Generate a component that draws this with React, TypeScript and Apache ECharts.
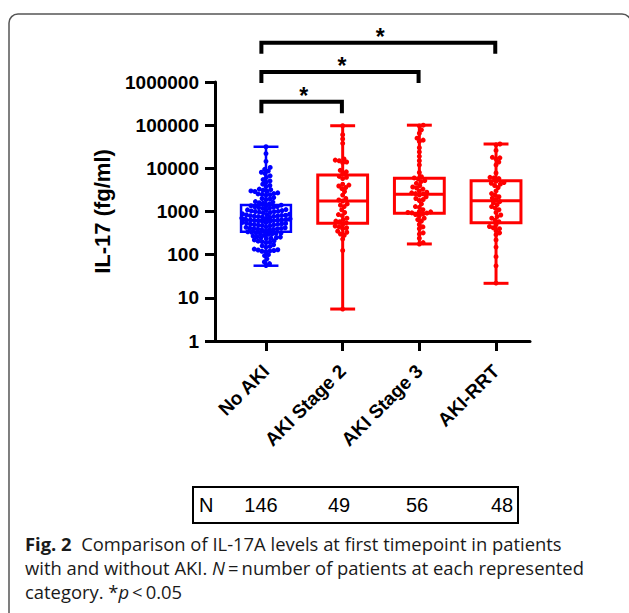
import React, { useEffect, useRef } from 'react';
import * as echarts from 'echarts';

const CATEGORIES = ['No AKI', 'AKI Stage 2', 'AKI Stage 3', 'AKI-RRT'];
const COLORS = ['#0000ff', '#ff0000', '#ff0000', '#ff0000'];
const BOX_LINE = [2.5, 3, 3, 3];

const BOX_MIN = [55.5, 5.5, 177, 21.7];
const BOX_Q1 = [340, 532, 910, 550];
const BOX_MED = [630, 1750, 2500, 1780];
const BOX_Q3 = [1410, 7000, 5880, 5160];
const BOX_MAX = [31600, 97000, 100000, 36600];

const NO_AKI = [
  31600, 22000, 14500, 10500, 9500, 8700, 8100, 7600, 6700, 6200, 5500, 5100, 4800, 4300, 4000, 3800,
  3300, 3200, 3100, 3000, 2950, 2900,
  2700, 2600, 2550, 2500, 2450, 2400,
  2100, 2000, 1950, 1900,
  1700, 1650, 1600, 1550, 1500,
  1400, 1360, 1330, 1300, 1280, 1250, 1230, 1200, 1180,
  1110, 1090, 1070, 1050, 1030, 1010, 1000, 990, 970, 950, 930,
  880, 865, 850, 835, 820, 810, 800, 790, 780, 770, 760, 745, 730,
  705, 690, 675, 665, 655, 645, 635, 630, 625, 615, 605, 595, 585,
  560, 550, 540, 530, 520, 510, 505, 500, 490, 485, 475, 465,
  440, 430, 420, 410, 405, 400, 395, 390, 385, 380, 375,
  350, 340, 330, 320, 315, 310, 305, 300, 295,
  280, 270, 260, 255, 250, 245, 240, 235,
  220, 210, 205, 200, 195, 190,
  170, 160, 155, 150,
  135, 130, 128, 125, 122, 120, 118,
  100, 95,
  80,
  68, 62,
  56,
];
const AKI_STAGE_2 = [
  97000, 60000, 48000, 38000, 16500, 15500, 15000, 14000, 13500, 9000, 8300, 7600,
  6500, 6200, 5800, 4300, 4100, 3900, 3600, 3400, 2900, 2400, 2000, 1850,
  1750,
  1500, 1400, 1300, 1100, 950, 850, 800, 700, 650, 600, 580, 550,
  500, 460, 440, 420, 400, 350, 330, 300, 280, 230, 125, 5.5,
];
const AKI_STAGE_3 = [
  100000, 96000, 78000, 65000, 50000, 45000, 42000, 30000, 24000, 19000, 15000, 12000, 8000, 6400,
  6000, 5700, 5200, 4900, 4500, 4000, 3700, 3500, 3300, 3000, 2800, 2700, 2600, 2550,
  2400, 2200, 2000, 1900, 1800, 1500, 1300, 1250, 1100, 1000, 980, 950, 930, 920,
  880, 850, 800, 700, 650, 600, 500, 440, 400, 320, 300, 240, 190, 177,
];
const AKI_RRT = [
  36600, 35000, 26000, 18000, 17500, 16500, 14000, 12000, 7800, 6200, 6000, 5800,
  5000, 4700, 4500, 4300, 4000, 3600, 3000, 2600, 2400, 2200, 2050, 1900,
  1700, 1580, 1450, 1300, 1200, 1100, 950, 830, 760, 700, 630, 580,
  500, 450, 420, 400, 360, 320, 290, 220, 150, 90, 55, 22,
];
const GROUPS = [NO_AKI, AKI_STAGE_2, AKI_STAGE_3, AKI_RRT];

const Y_TICKS = [1, 10, 100, 1000, 10000, 100000, 1000000];
const X_TICKS = [0, 1, 2, 3];

const BRACKET_FROM = [-0.06, -0.06, -0.06];
const BRACKET_TO = [0.99, 1.99, 2.99];
const BRACKET_TOP = [350000, 1700000, 8100000];
const BRACKET_LEG = [190000, 950000, 4500000];
const BRACKET_LABEL = ['*', '*', '*'];

const FONT = '"Liberation Sans", Arial, Helvetica, sans-serif';
const CAPTION_FONT = '"Open Sans", "Noto Sans", sans-serif';
const CAPTION_SIZE = 18.4;

// beeswarm layout (pixel-space approximation of the axes' scales)
function beeswarm(values: number[], cat: number): [number, number][] {
  const PX_PER_DECADE = 43.17;
  const PX_PER_CAT = 76.67;
  const D = 4.0;
  const sorted = [...values].sort((a, b) => a - b);
  const placed: { x: number; y: number }[] = [];
  const out: [number, number][] = [];
  for (const v of sorted) {
    const y = Math.log10(v) * PX_PER_DECADE;
    const near = placed.filter((p) => Math.abs(p.y - y) < D);
    const cands = [0];
    near.forEach((p) => {
      const dx = Math.sqrt(D * D - (p.y - y) * (p.y - y));
      cands.push(p.x + dx, p.x - dx);
    });
    cands.sort((a, b) => Math.abs(a) - Math.abs(b));
    let xo = 0;
    for (const c of cands) {
      if (near.every((p) => (p.x - c) * (p.x - c) + (p.y - y) * (p.y - y) >= D * D - 1e-6)) {
        xo = c;
        break;
      }
    }
    placed.push({ x: xo, y });
    out.push([cat + xo / PX_PER_CAT, v]);
  }
  return out;
}

export default function App() {
  const ref = useRef<HTMLDivElement>(null);

  useEffect(() => {
    if (!ref.current) return;
    const chart = echarts.init(ref.current, null, { renderer: 'svg' });

    const boxData = CATEGORIES.map((_, i) => [i, BOX_MIN[i], BOX_Q1[i], BOX_MED[i], BOX_Q3[i], BOX_MAX[i]]);
    const bracketData = BRACKET_TO.map((_, i) => [BRACKET_FROM[i], BRACKET_TO[i], BRACKET_TOP[i], BRACKET_LEG[i]]);

    const scatterSeries = GROUPS.map((vals, i) => ({
      type: 'scatter',
      data: beeswarm(vals, i),
      symbol: 'circle',
      symbolSize: 5,
      itemStyle: { color: COLORS[i], opacity: 1 },
      silent: true,
      z: 3,
    }));

    const rich = {
      b: { fontWeight: 'bold', fontSize: CAPTION_SIZE, fontFamily: CAPTION_FONT, lineHeight: 24, fill: '#1a1a1a' },
      i: { fontStyle: 'italic', fontSize: CAPTION_SIZE, fontFamily: CAPTION_FONT, lineHeight: 24, fill: '#1a1a1a' },
    };

    const option: any = {
      animation: false,
      grid: { left: 215, top: 82, width: 315, height: 259, outerBoundsMode: 'none' },
      xAxis: {
        type: 'value',
        min: -0.665,
        max: 3.443,
        splitLine: { show: false },
        axisLine: { show: true, onZero: false, lineStyle: { color: '#000', width: 3 } },
        axisTick: { show: true, customValues: X_TICKS, length: 10, lineStyle: { color: '#000', width: 3 } },
        axisLabel: {
          customValues: X_TICKS,
          formatter: (v: number) => CATEGORIES[Math.round(v)],
          rotate: 45,
          margin: 27,
          fontSize: 19,
          fontWeight: 'bold',
          color: '#000',
          fontFamily: FONT,
        },
      },
      yAxis: {
        type: 'log',
        logBase: 10,
        min: 1,
        max: 1000000,
        name: 'IL-17 (fg/ml)',
        nameLocation: 'middle',
        nameGap: 102,
        nameRotate: 90,
        nameTextStyle: { fontSize: 22, fontWeight: 'bold', color: '#000', fontFamily: FONT },
        splitLine: { show: false },
        axisLine: { show: true, onZero: false, lineStyle: { color: '#000', width: 3 } },
        axisTick: { show: true, customValues: Y_TICKS, length: 10, lineStyle: { color: '#000', width: 3 } },
        axisLabel: {
          customValues: Y_TICKS,
          formatter: (v: number) => String(Math.round(v)),
          margin: 16,
          fontSize: 19,
          fontWeight: 'bold',
          color: '#000',
          fontFamily: FONT,
        },
      },
      series: [
        {
          type: 'custom',
          data: boxData,
          encode: { x: 0, y: [1, 2, 3, 4, 5] },
          silent: true,
          z: 2,
          renderItem: (params: any, api: any) => {
            const i = api.value(0);
            const color = COLORS[params.dataIndex];
            const lw = BOX_LINE[params.dataIndex];
            const pMin = api.coord([i, api.value(1)]);
            const pQ1 = api.coord([i, api.value(2)]);
            const pMed = api.coord([i, api.value(3)]);
            const pQ3 = api.coord([i, api.value(4)]);
            const pMax = api.coord([i, api.value(5)]);
            const hw = (api.coord([i + 0.325, api.value(3)])[0] - api.coord([i - 0.325, api.value(3)])[0]) / 2;
            const hc = hw / 2;
            const cx = pMed[0];
            const st = { stroke: color, lineWidth: lw, fill: 'none' };
            return {
              type: 'group',
              children: [
                { type: 'line', shape: { x1: cx, y1: pQ3[1], x2: cx, y2: pMax[1] }, style: st },
                { type: 'line', shape: { x1: cx, y1: pQ1[1], x2: cx, y2: pMin[1] }, style: st },
                { type: 'line', shape: { x1: cx - hc, y1: pMax[1], x2: cx + hc, y2: pMax[1] }, style: st },
                { type: 'line', shape: { x1: cx - hc, y1: pMin[1], x2: cx + hc, y2: pMin[1] }, style: st },
                { type: 'rect', shape: { x: cx - hw, y: pQ3[1], width: hw * 2, height: pQ1[1] - pQ3[1] }, style: st },
                { type: 'line', shape: { x1: cx - hw, y1: pMed[1], x2: cx + hw, y2: pMed[1] }, style: st },
              ],
            };
          },
        },
        ...scatterSeries,
        {
          type: 'custom',
          data: bracketData,
          encode: { x: [0, 1], y: [2, 3] },
          clip: false,
          silent: true,
          z: 4,
          renderItem: (params: any, api: any) => {
            const a = api.coord([api.value(0), api.value(2)]);
            const b = api.coord([api.value(1), api.value(2)]);
            const aLeg = api.coord([api.value(0), api.value(3)]);
            return {
              type: 'group',
              children: [
                {
                  type: 'polyline',
                  shape: { points: [[a[0], aLeg[1]], [a[0], a[1]], [b[0], b[1]], [b[0], aLeg[1]]] },
                  style: { stroke: '#000', lineWidth: 4, fill: 'none', lineJoin: 'miter', lineCap: 'butt' },
                },
                {
                  type: 'text',
                  x: (a[0] + b[0]) / 2 + 2,
                  y: a[1] - 6,
                  style: {
                    text: BRACKET_LABEL[params.dataIndex],
                    font: `bold 23px ${FONT}`,
                    fill: '#000',
                    align: 'center',
                    verticalAlign: 'middle',
                  },
                },
              ],
            };
          },
        },
      ],
      graphic: [
        {
          type: 'rect',
          silent: true,
          shape: { x: 9, y: 14, width: 622, height: 640, r: 9 },
          style: { fill: 'none', stroke: '#555', lineWidth: 1.5 },
        },
        {
          type: 'rect',
          silent: true,
          shape: { x: 193, y: 487, width: 325, height: 36 },
          style: { fill: 'none', stroke: '#000', lineWidth: 2 },
        },
        {
          type: 'text',
          x: 199,
          y: 505,
          style: { text: 'N', font: `20px ${FONT}`, fill: '#000', verticalAlign: 'middle', align: 'left' },
        },
        ...[261, 339, 417, 502].map((x, i) => ({
          type: 'text',
          x,
          y: 505,
          style: {
            text: String(GROUPS[i].length),
            font: `20px ${FONT}`,
            fill: '#000',
            verticalAlign: 'middle',
            align: 'center',
          },
        })),
        {
          type: 'text',
          x: 25,
          y: 531,
          style: {
            text:
              '{b|Fig. 2}  Comparison of IL-17A levels at first timepoint in patients\n' +
              'with and without AKI. {i|N}\u2009=\u2009number of patients at each represented\n' +
              'category. *{i|p}\u2009<\u20090.05',
            font: `${CAPTION_SIZE}px ${CAPTION_FONT}`,
            fontSize: CAPTION_SIZE,
            fontFamily: CAPTION_FONT,
            lineHeight: 24,
            fill: '#1a1a1a',
            align: 'left',
            verticalAlign: 'top',
            rich,
          },
        },
      ],
    };

    chart.setOption(option);
    return () => chart.dispose();
  }, []);

  return (
    <div
      ref={ref}
      style={{ position: 'absolute', left: 0, top: 0, width: 629, height: 613, background: '#fff' }}
    />
  );
}
